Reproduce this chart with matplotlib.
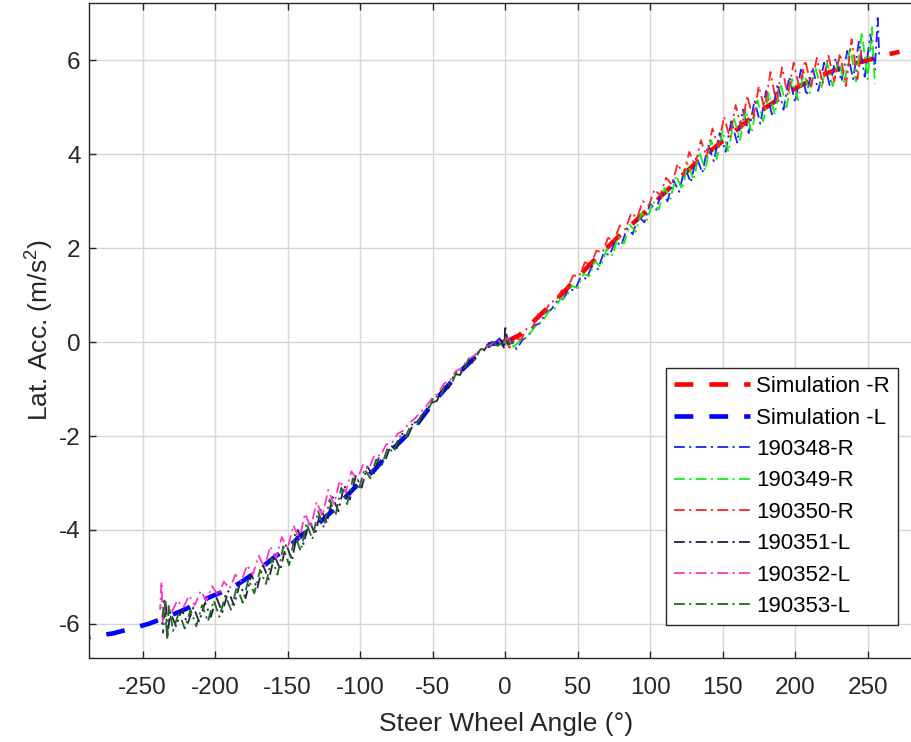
import numpy as np
import matplotlib
matplotlib.use('Agg')
import matplotlib.pyplot as plt

plt.rcParams['font.family'] = ['Liberation Sans', 'DejaVu Sans']
plt.rcParams['mathtext.fontset'] = 'custom'
plt.rcParams['mathtext.rm'] = 'Liberation Sans'
plt.rcParams['mathtext.it'] = 'Liberation Sans'
plt.rcParams['mathtext.default'] = 'regular'
plt.rcParams['axes.unicode_minus'] = False

# simulation curves
sim_r_x = [0, 10, 20, 30, 40, 50, 60, 70, 80, 90, 100, 110, 120, 130, 140, 150, 160,
           170, 180, 190, 200, 210, 220, 230, 240, 250, 260, 272]
sim_r_y = [0, 0.15, 0.45, 0.75, 1.05, 1.38, 1.7, 2.0, 2.3, 2.58, 2.87, 3.18, 3.48, 3.77,
           4.03, 4.28, 4.53, 4.78, 5.0, 5.2, 5.4, 5.56, 5.7, 5.82, 5.92, 6.0, 6.1, 6.18]

sim_l_x = [0, -10, -20, -30, -40, -50, -60, -70, -80, -90, -100, -110, -120, -130, -140,
           -150, -160, -170, -180, -190, -200, -210, -220, -233, -246, -259, -270, -287]
sim_l_y = [0, -0.04, -0.3, -0.6, -0.95, -1.3, -1.72, -2.05, -2.35, -2.72, -2.98, -3.3,
           -3.62, -3.9, -4.1, -4.38, -4.6, -4.85, -5.07, -5.26, -5.38, -5.52, -5.68,
           -5.85, -6.0, -6.11, -6.2, -6.28]

# measured runs
r348_x = [-8, -4, 0, 4, 8, 12, 16, 20, 24, 28, 32, 36, 40, 44, 48, 52, 56, 60, 64, 68,
          72, 76, 80, 84, 88, 92, 96, 100, 104, 108, 112, 116, 120, 124, 128, 132, 136,
          140, 144, 148, 152, 156, 160, 164, 168, 172, 176, 180, 184, 188, 192, 196, 200,
          204, 208, 212, 216, 220, 224, 228, 232, 236, 240, 244, 248, 252, 255, 257, 258]
r348_y = [-0.05, 0.08, -0.1, 0.05, -0.15, 0.05, 0.12, 0.35, 0.4, 0.62, 0.7, 0.88, 0.92,
          1.12, 1.1, 1.38, 1.35, 1.62, 1.55, 1.9, 1.85, 2.15, 2.05, 2.42, 2.3, 2.68, 2.55,
          2.95, 2.8, 3.2, 3.0, 3.45, 3.2, 3.72, 3.4, 3.95, 3.6, 4.2, 3.85, 4.45, 4.05, 4.7,
          4.25, 4.95, 4.45, 5.15, 4.65, 5.35, 4.85, 5.5, 4.95, 5.65, 5.1, 5.8, 5.25, 5.85,
          5.35, 5.95, 5.45, 6.05, 5.55, 6.2, 5.6, 6.4, 5.65, 6.55, 5.8, 6.9, 6.1]

r349_x = [-4, -2, 2, 6, 10, 14, 18, 22, 26, 30, 34, 38, 42, 46, 50, 54, 58, 62, 66, 70,
          74, 78, 82, 86, 90, 94, 98, 102, 106, 110, 114, 118, 122, 126, 130, 134, 138,
          142, 146, 150, 154, 158, 162, 166, 170, 174, 178, 182, 186, 190, 194, 198, 202,
          206, 210, 214, 218, 222, 226, 230, 234, 238, 242, 246, 250, 253, 255]
r349_y = [0.02, -0.08, 0.06, -0.1, 0.02, 0.1, 0.22, 0.38, 0.45, 0.65, 0.7, 0.92, 0.95,
          1.2, 1.15, 1.45, 1.4, 1.72, 1.6, 1.98, 1.85, 2.25, 2.1, 2.5, 2.35, 2.75, 2.6,
          3.0, 2.82, 3.28, 3.05, 3.55, 3.25, 3.8, 3.45, 4.05, 3.65, 4.3, 3.9, 4.5, 4.05,
          4.75, 4.3, 4.95, 4.45, 5.15, 4.7, 5.3, 4.85, 5.5, 5.0, 5.6, 5.15, 5.75, 5.3,
          5.85, 5.4, 5.95, 5.45, 6.05, 5.5, 6.3, 5.55, 6.6, 5.6, 6.7, 5.5]

r350_x = [0, 3, 7, 11, 15, 19, 23, 27, 31, 35, 39, 43, 47, 51, 55, 59, 63, 67, 71, 75,
          79, 83, 87, 91, 95, 99, 103, 107, 111, 115, 119, 123, 127, 131, 135, 139, 143,
          147, 151, 155, 159, 163, 167, 171, 175, 179, 183, 187, 191, 195, 199, 203, 207,
          211, 215, 219, 223, 227, 231, 235, 239, 243, 246]
r350_y = [0.05, -0.12, 0.08, 0.05, 0.3, 0.32, 0.6, 0.6, 0.85, 0.88, 1.1, 1.15, 1.42, 1.4,
          1.7, 1.65, 1.95, 1.9, 2.22, 2.15, 2.48, 2.4, 2.75, 2.65, 3.0, 2.9, 3.25, 3.12,
          3.5, 3.35, 3.8, 3.55, 4.05, 3.75, 4.3, 3.95, 4.55, 4.15, 4.8, 4.35, 5.05, 4.55,
          5.25, 4.75, 5.45, 4.95, 5.75, 5.1, 5.85, 5.25, 5.95, 5.4, 6.0, 5.45, 6.05, 5.5,
          6.1, 5.55, 6.15, 5.45, 6.45, 5.6, 6.3]

l351_x = [2, 0, -0.5, -3, -7, -11, -15, -19, -23, -27, -31, -35, -39, -43, -47, -51, -55,
          -59, -63, -67, -71, -75, -79, -83, -87, -91, -95, -99, -103, -107, -111, -115,
          -119, -123, -127, -131, -135, -139, -143, -147, -151, -155, -159, -163, -167,
          -171, -175, -179, -183, -187, -191, -195, -199, -203, -207, -211, -215, -219,
          -223, -227, -231, -233, -234, -236]
l351_y = [-0.05, 0.35, -0.15, 0.05, -0.05, -0.02, -0.2, -0.22, -0.45, -0.42, -0.7, -0.68,
          -0.98, -0.95, -1.25, -1.3, -1.5, -1.68, -1.72, -2.0, -1.95, -2.28, -2.2, -2.55,
          -2.45, -2.85, -2.65, -3.1, -2.85, -3.35, -3.05, -3.6, -3.3, -3.85, -3.55, -4.1,
          -3.8, -4.3, -4.0, -4.65, -4.3, -4.85, -4.55, -5.05, -4.75, -5.25, -4.95, -5.45,
          -5.15, -5.6, -5.3, -5.75, -5.45, -5.85, -5.55, -5.95, -5.65, -6.0, -5.7, -6.05,
          -5.75, -6.3, -5.5, -6.2]

l352_x = [4, 1, -2, -6, -10, -14, -18, -22, -26, -30, -34, -38, -42, -46, -50, -54, -58,
          -62, -66, -70, -74, -78, -82, -86, -90, -94, -98, -102, -106, -110, -114, -118,
          -122, -126, -130, -134, -138, -142, -146, -150, -154, -158, -162, -166, -170,
          -174, -178, -182, -186, -190, -194, -198, -202, -206, -210, -214, -218, -222,
          -226, -230, -234, -236, -237, -238]
l352_y = [0.0, 0.08, -0.03, 0.05, -0.06, -0.1, -0.2, -0.3, -0.38, -0.55, -0.62, -0.82,
          -0.88, -1.08, -1.18, -1.35, -1.48, -1.62, -1.72, -1.88, -1.95, -2.15, -2.18,
          -2.42, -2.4, -2.7, -2.6, -2.95, -2.75, -3.2, -2.95, -3.45, -3.15, -3.7, -3.4,
          -3.95, -3.65, -4.2, -3.9, -4.4, -4.15, -4.6, -4.35, -4.8, -4.55, -4.95, -4.75,
          -5.1, -4.95, -5.25, -5.1, -5.4, -5.2, -5.5, -5.3, -5.6, -5.4, -5.65, -5.5, -5.75,
          -5.55, -6.0, -5.1, -5.7]

l353_x = [6, 3, 1, -5, -9, -13, -17, -21, -25, -29, -33, -37, -41, -45, -49, -53, -57,
          -61, -65, -69, -73, -77, -81, -85, -89, -93, -97, -101, -105, -109, -113, -117,
          -121, -125, -129, -133, -137, -141, -145, -149, -153, -157, -161, -165, -169,
          -173, -177, -181, -185, -189, -193, -197, -201, -205, -209, -213, -217, -221,
          -225, -229, -232, -233, -235, -237]
l353_y = [0.02, -0.05, 0.1, -0.08, 0.0, -0.15, -0.15, -0.38, -0.35, -0.62, -0.6, -0.9,
          -0.88, -1.18, -1.15, -1.45, -1.5, -1.78, -1.75, -2.05, -2.0, -2.35, -2.25, -2.62,
          -2.5, -2.9, -2.7, -3.15, -2.9, -3.45, -3.1, -3.7, -3.35, -3.95, -3.6, -4.2,
          -3.85, -4.45, -4.1, -4.75, -4.35, -4.95, -4.6, -5.15, -4.85, -5.35, -5.05, -5.55,
          -5.2, -5.7, -5.4, -5.85, -5.5, -5.95, -5.6, -6.05, -5.7, -6.1, -5.75, -6.15,
          -5.6, -6.35, -5.45, -6.1]

runs = [
    (r348_x, r348_y, '#1f1fff', '190348-R'),
    (r349_x, r349_y, '#11ee11', '190349-R'),
    (r350_x, r350_y, '#ff2222', '190350-R'),
    (l351_x, l351_y, '#20204a', '190351-L'),
    (l352_x, l352_y, '#ff33cc', '190352-L'),
    (l353_x, l353_y, '#1e6a1e', '190353-L'),
]

fig = plt.figure(figsize=(9.12, 7.42), dpi=100)
ax = fig.add_axes([89 / 912, 84.3 / 742, 835 / 912, 654.7 / 742])

sim_dash = (4.1, 3.5)
ax.plot(sim_r_x, sim_r_y, color='#ff0000', lw=3.3, dashes=sim_dash,
        label='Simulation -R', zorder=2)
ax.plot(sim_l_x, sim_l_y, color='#0000ff', lw=3.3, dashes=sim_dash,
        label='Simulation -L', zorder=2)

for xs, ys, c, lab in runs:
    ax.plot(xs, ys, color=c, lw=1.3, dashes=(6, 2.4, 1.2, 2.4), label=lab, zorder=3)

ax.set_xlim(-287, 288.9)
ax.set_ylim(-6.72, 7.22)
ax.set_xticks(np.arange(-250, 251, 50))
ax.set_yticks(np.arange(-6, 7, 2))
ax.grid(True, color='#d6d6d6', lw=1)
ax.set_axisbelow(True)
ax.tick_params(direction='in', length=5, width=1, top=True, right=False,
               labelsize=17.5, colors='#262626')
ax.tick_params(axis='x', pad=14)
ax.tick_params(axis='y', pad=6)
for s in ax.spines.values():
    s.set_color('#262626')
    s.set_linewidth(1)
ax.spines['right'].set_visible(False)

ax.set_xlabel('Steer Wheel Angle (°)', fontsize=19, color='#262626', labelpad=9)
ax.set_ylabel('Lat. Acc. (m/s$^2$)', fontsize=19, color='#262626', labelpad=2)

leg = ax.legend(loc='lower right', bbox_to_anchor=(898 / 912, 117 / 742),
                bbox_transform=fig.transFigure, borderaxespad=0, fontsize=16,
                frameon=True, fancybox=False, framealpha=1, edgecolor='#262626',
                handlelength=3.45, handletextpad=0.27, labelspacing=0.47, borderpad=0.35)
leg.get_frame().set_linewidth(1)
leg.set_zorder(5)

fig.savefig('out.png', dpi=100)
